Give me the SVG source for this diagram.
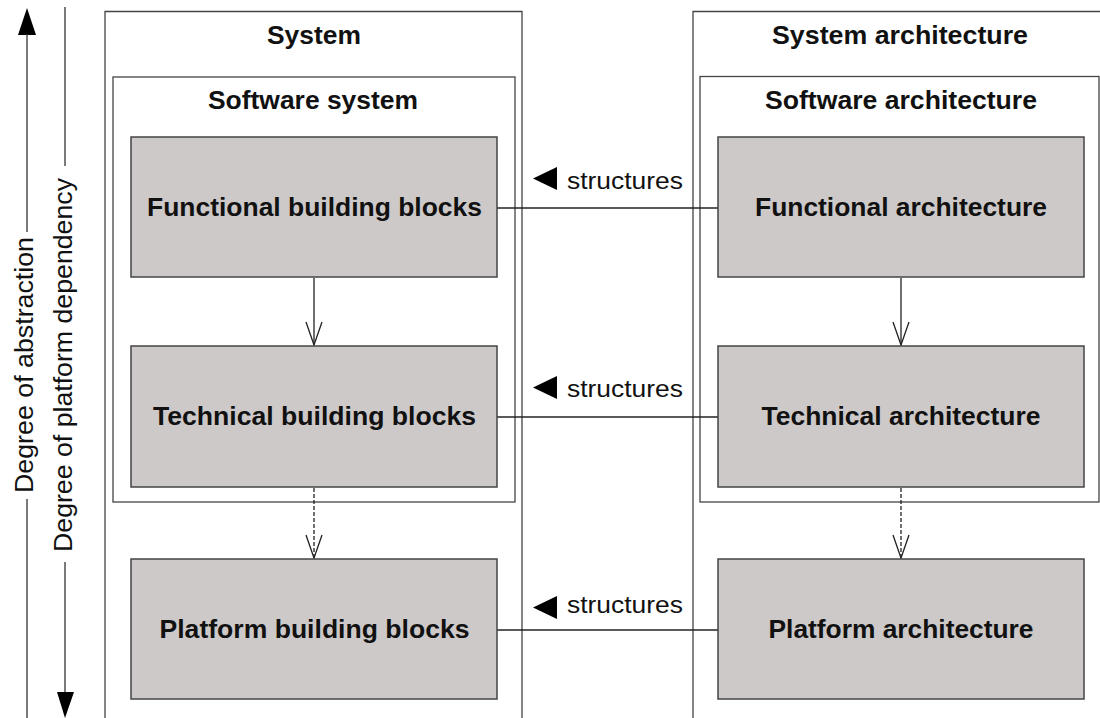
<svg xmlns="http://www.w3.org/2000/svg" width="1100" height="718" viewBox="0 0 1100 718">
<style>
.frame{fill:none;stroke:#444;stroke-width:1.3}
.inner{fill:#fff;stroke:#444;stroke-width:1.3}
.blk{fill:#cdc9c9;stroke:#444;stroke-width:1.5}
.t{font-family:"Liberation Sans",Arial,Helvetica,sans-serif;fill:#111}
.b{font-weight:bold;font-size:25px;text-anchor:middle}
.lbl{font-size:24px}
.ax{font-size:25px;text-anchor:middle}
.con{stroke:#222;stroke-width:1.3;fill:none}
.dash{stroke-dasharray:4 2}
.axis{stroke:#333;stroke-width:1.3;fill:none}
.head{fill:none;stroke:#222;stroke-width:1.3}
</style>
<rect width="1100" height="718" fill="#fff"/>

<g id="axes">
<polygon points="27,8 18,35 36,35" fill="#000"/>
<line class="axis" x1="27" y1="34" x2="27" y2="232"/>
<line class="axis" x1="27" y1="499" x2="27" y2="718"/>
<text class="t ax" transform="translate(33,365) rotate(-90)" textLength="256" lengthAdjust="spacingAndGlyphs">Degree of abstraction</text>
<line class="axis" x1="65" y1="7" x2="65" y2="166"/>
<line class="axis" x1="65" y1="562" x2="65" y2="694"/>
<polygon points="65,718 57,692 74,692" fill="#000"/>
<text class="t ax" transform="translate(72,365) rotate(-90)" textLength="374" lengthAdjust="spacingAndGlyphs">Degree of platform dependency</text>
</g>

<g id="system">
<path class="frame" d="M105,718 V11.5 H522 V718"/>
<text class="t b" x="314" y="44" textLength="94" lengthAdjust="spacingAndGlyphs">System</text>
</g>
<g id="system-architecture">
<path class="frame" d="M693,718 V11.5 H1101"/>
<text class="t b" x="900" y="44" textLength="256" lengthAdjust="spacingAndGlyphs">System architecture</text>
</g>
<g id="software-system">
<rect class="inner" x="113" y="77" width="402" height="425"/>
<text class="t b" x="313" y="109" textLength="210" lengthAdjust="spacingAndGlyphs">Software system</text>
</g>
<g id="software-architecture">
<rect class="inner" x="700" y="76.5" width="399" height="425.5"/>
<text class="t b" x="901" y="109" textLength="272" lengthAdjust="spacingAndGlyphs">Software architecture</text>
</g>

<g id="connectors">
<line class="con" x1="497" y1="208" x2="718" y2="208"/>
<line class="con" x1="497" y1="417" x2="718" y2="417"/>
<line class="con" x1="497" y1="630" x2="718" y2="630"/>
<line class="con" x1="314" y1="278" x2="314" y2="345"/>
<path class="head" d="M306,322 L314,345 L322,322"/>
<line class="con" x1="901" y1="278" x2="901" y2="345"/>
<path class="head" d="M893,322 L901,345 L909,322"/>
<line class="con dash" x1="314" y1="488" x2="314" y2="558"/>
<path class="head" d="M306,535 L314,558 L322,535"/>
<line class="con dash" x1="901" y1="488" x2="901" y2="558"/>
<path class="head" d="M893,535 L901,558 L909,535"/>
<polygon points="533,178.5 557,167 557,190" fill="#000"/>
<text class="t lbl" x="567" y="189" textLength="116" lengthAdjust="spacingAndGlyphs">structures</text>
<polygon points="533,387.5 557,376 557,399" fill="#000"/>
<text class="t lbl" x="567" y="397" textLength="116" lengthAdjust="spacingAndGlyphs">structures</text>
<polygon points="533,607.5 557,596 557,619" fill="#000"/>
<text class="t lbl" x="567" y="613" textLength="116" lengthAdjust="spacingAndGlyphs">structures</text>
</g>

<g id="functional-building-blocks">
<rect class="blk" x="131" y="137" width="366" height="140"/>
<text class="t b" x="314.5" y="216" textLength="335" lengthAdjust="spacingAndGlyphs">Functional building blocks</text>
</g>
<g id="technical-building-blocks">
<rect class="blk" x="131" y="346" width="366" height="141"/>
<text class="t b" x="314.5" y="425" textLength="323" lengthAdjust="spacingAndGlyphs">Technical building blocks</text>
</g>
<g id="platform-building-blocks">
<rect class="blk" x="131" y="559" width="366" height="140"/>
<text class="t b" x="314.5" y="638" textLength="310" lengthAdjust="spacingAndGlyphs">Platform building blocks</text>
</g>
<g id="functional-architecture">
<rect class="blk" x="718" y="137" width="366" height="140"/>
<text class="t b" x="901" y="216" textLength="292" lengthAdjust="spacingAndGlyphs">Functional architecture</text>
</g>
<g id="technical-architecture">
<rect class="blk" x="718" y="346" width="366" height="141"/>
<text class="t b" x="901" y="425" textLength="279" lengthAdjust="spacingAndGlyphs">Technical architecture</text>
</g>
<g id="platform-architecture">
<rect class="blk" x="718" y="559" width="366" height="140"/>
<text class="t b" x="901" y="638" textLength="265" lengthAdjust="spacingAndGlyphs">Platform architecture</text>
</g>
</svg>
